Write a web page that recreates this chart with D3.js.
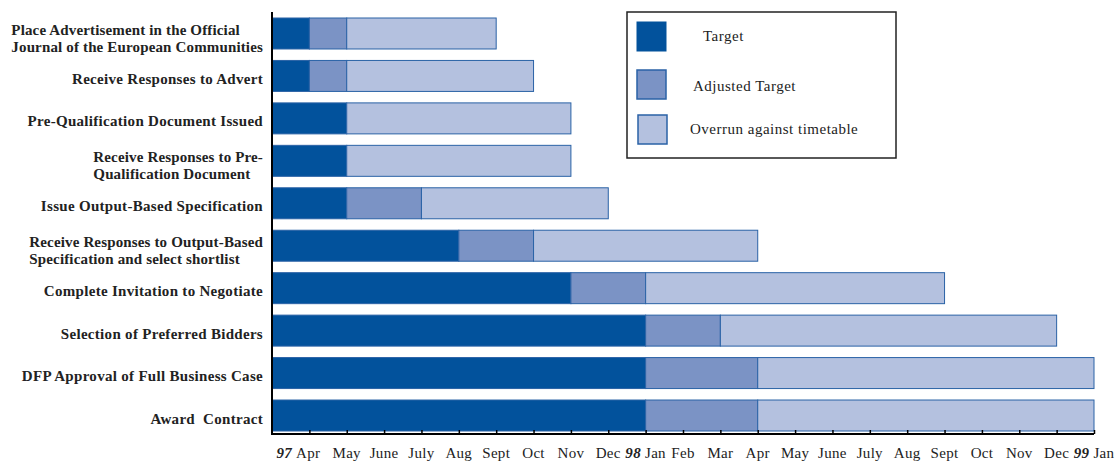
<!DOCTYPE html>
<html><head><meta charset="utf-8">
<script src="https://cdn.jsdelivr.net/npm/d3@7"></script>
<style>body{margin:0;background:#fff}svg{display:block}text{white-space:pre}</style>
</head><body>
<svg id="c" width="1118" height="462"></svg>
<script>
const categories = [
  ["Place Advertisement in the Official","Journal of the European Communities"],
  ["Receive Responses to Advert"],
  ["Pre-Qualification Document Issued"],
  ["Receive Responses to Pre-","Qualification Document"],
  ["Issue Output-Based Specification"],
  ["Receive Responses to Output-Based","Specification and select shortlist"],
  ["Complete Invitation to Negotiate"],
  ["Selection of Preferred Bidders"],
  ["DFP Approval of Full Business Case"],
  ["Award  Contract"]
];
// durations in months from start (end of March 1997)
const target   = [1,1,2,2,2,5,8,10,10,10];
const adjusted = [1,1,0,0,2,2,2,2,3,3];
const overrun  = [4,5,6,6,5,6,8,9,9,9];
const seriesNames = ["Target","Adjusted Target","Overrun against timetable"];
const monthLabels = ["Apr","May","June","July","Aug","Sept","Oct","Nov","Dec","Jan","Feb","Mar","Apr","May","June","July","Aug","Sept","Oct","Nov","Dec","Jan"];
const yearLabels  = {0:"97", 9:"98", 21:"99"};

const colors = ["#02529c","#7b93c5","#b4c1df"];
const strokeC = "#2a62a6";
const FONT = "'Liberation Serif', 'Times New Roman', serif";

const svg = d3.select("#c");
const x = d3.scaleLinear().domain([0,22]).range([272,1094]);
const y = d3.scaleBand().domain(d3.range(categories.length)).range([18,431]).paddingInner(0.27).paddingOuter(0);

const rows = categories.map((c,i)=>({i, segs:[target[i],adjusted[i],overrun[i]]}));
const bars = svg.append("g");
rows.forEach(r=>{
  let acc=0;
  r.segs.forEach((v,k)=>{
    if(v>0){
      bars.append("rect")
        .attr("x", x(acc)).attr("y", y(r.i))
        .attr("width", x(acc+v)-x(acc)).attr("height", y.bandwidth())
        .attr("fill", colors[k]).attr("stroke", strokeC).attr("stroke-width",1);
    }
    acc+=v;
  });
});

// axes
const axisY = 434;
const ax = d3.axisBottom(x).tickValues(d3.range(1,23)).tickSize(-4).tickFormat("");
const axg = svg.append("g").attr("transform",`translate(0,${axisY})`).call(ax);
axg.select(".domain").attr("stroke","#000").attr("stroke-width",2).attr("d",`M${x(0)},0H${x(22)}`);
axg.selectAll(".tick line").attr("stroke","#000").attr("stroke-width",1.5);
axg.selectAll(".tick text").remove();
svg.append("line").attr("x1",x(0)).attr("x2",x(0)).attr("y1",12).attr("y2",axisY+1)
  .attr("stroke","#000").attr("stroke-width",2);

// tick labels
const tl = svg.append("g");
monthLabels.forEach((m,i)=>{
  const t = tl.append("text").attr("x", i===0 ? x(i+1)-11 : x(i+1)).attr("y", 458)
    .attr("text-anchor","middle").attr("font-family",FONT).attr("font-size",15)
    .attr("letter-spacing",0.3).attr("fill","#222");
  if(yearLabels[i]!==undefined){
    t.append("tspan").attr("font-weight","bold").attr("font-style","italic").text(yearLabels[i]+" ");
  }
  t.append("tspan").text(m);
});

// category labels
const RIGHT = 263;
categories.forEach((lines,i)=>{
  const cy = y(i)+y.bandwidth()/2;
  const lh = 17;
  const g = svg.append("g");
  const texts = lines.map((l,j)=>g.append("text")
    .attr("y", cy + 5 + (j-(lines.length-1)/2)*lh + (lines.length>1?5:3))
    .attr("font-family",FONT).attr("font-weight","bold").attr("font-size",15)
    .attr("letter-spacing",lines.length>1?0.15:0.3).attr("fill","#222").text(l));
  if(lines.length===1){
    texts[0].attr("x",RIGHT).attr("text-anchor","end");
  } else {
    const w = d3.max(texts.map(t=>t.node().getComputedTextLength()));
    texts.forEach(t=>t.attr("x",RIGHT-w).attr("text-anchor","start"));
  }
});

// legend
const lg = svg.append("g");
lg.append("rect").attr("x",627).attr("y",12).attr("width",269).attr("height",146)
  .attr("fill","#fff").attr("stroke","#222").attr("stroke-width",1.5);
const sw = [{x:637,y:22,tx:703,ty:41},{x:637,y:70,tx:693,ty:91},{x:638,y:115,tx:690,ty:134}];
seriesNames.forEach((n,k)=>{
  lg.append("rect").attr("x",sw[k].x).attr("y",sw[k].y).attr("width",29).attr("height",29)
    .attr("fill",colors[k]).attr("stroke",k===0?colors[0]:strokeC).attr("stroke-width",k===0?1:1.5);
  lg.append("text").attr("x",sw[k].tx).attr("y",sw[k].ty).attr("font-family",FONT)
    .attr("font-size",15).attr("letter-spacing",0.5).attr("fill","#222").text(n);
});
</script>
</body></html>
